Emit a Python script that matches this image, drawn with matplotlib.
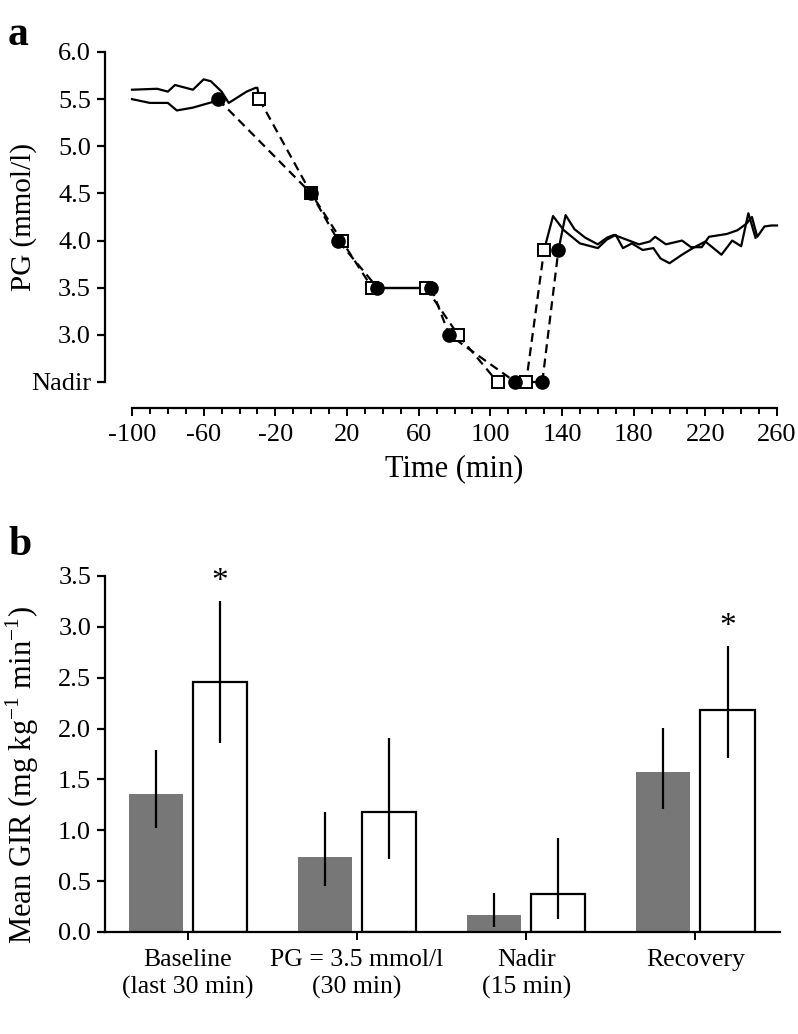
import matplotlib
matplotlib.use("Agg")
import matplotlib.pyplot as plt
import numpy as np

plt.rcParams['font.family'] = ['Liberation Serif', 'DejaVu Serif']
plt.rcParams['mathtext.fontset'] = 'custom'
plt.rcParams['mathtext.rm'] = 'Liberation Serif'
plt.rcParams['axes.unicode_minus'] = False

# ---------------- Panel a data ----------------
# step-wise clamp targets (markers, dashed)
circ_t = [-52, 0, 15, 37, 67, 77, 114, 129, 138]
circ_v = [5.5, 4.5, 4.0, 3.5, 3.5, 3.0, 2.5, 2.5, 3.9]
sq_t = [-29, 0, 17, 34, 64, 82, 104, 120, 130]
sq_v = [5.5, 4.5, 4.0, 3.5, 3.5, 3.0, 2.5, 2.5, 3.9]

# baseline traces
base_circ_t = [-100, -90, -80, -75, -66, -55, -52]
base_circ_v = [5.50, 5.46, 5.46, 5.38, 5.41, 5.47, 5.50]
base_sq_t = [-100, -86, -80, -76, -66, -60, -56, -50, -46, -36, -31, -30, -29]
base_sq_v = [5.60, 5.61, 5.58, 5.65, 5.60, 5.71, 5.69, 5.58, 5.46, 5.58, 5.62, 5.62, 5.5]

# recovery traces
rec_sq_t = [130, 135, 141, 150, 160, 165, 170, 174, 179, 185, 191, 195, 200, 207, 213, 220, 229, 235, 240, 244, 248]
rec_sq_v = [3.9, 4.26, 4.11, 3.97, 3.92, 4.01, 4.06, 3.92, 3.97, 3.90, 3.92, 3.81, 3.76, 3.85, 3.92, 3.99, 3.85, 4.00, 3.94, 4.29, 4.03]
rec_circ_t = [138, 142, 147, 153, 160, 165, 169, 176, 183, 189, 192, 198, 207, 212, 218, 222, 232, 238, 243, 246, 249, 253, 257, 260]
rec_circ_v = [3.9, 4.27, 4.12, 4.03, 3.96, 4.03, 4.06, 4.01, 3.96, 3.99, 4.04, 3.96, 4.00, 3.93, 3.93, 4.04, 4.07, 4.11, 4.18, 4.25, 4.04, 4.15, 4.16, 4.16]

yticks_a = [2.5, 3.0, 3.5, 4.0, 4.5, 5.0, 5.5, 6.0]
yticklabels_a = ['Nadir', '3.0', '3.5', '4.0', '4.5', '5.0', '5.5', '6.0']
xticks_a = list(range(-100, 261, 40))

# ---------------- Panel b data ----------------
categories = ['Baseline\n(last 30 min)', 'PG = 3.5 mmol/l\n(30 min)', 'Nadir\n(15 min)', 'Recovery']
grey_mean = [1.36, 0.74, 0.17, 1.57]
grey_lo = [1.02, 0.45, 0.05, 1.21]
grey_hi = [1.79, 1.18, 0.38, 2.01]
white_mean = [2.46, 1.18, 0.37, 2.18]
white_lo = [1.86, 0.72, 0.13, 1.71]
white_hi = [3.25, 1.91, 0.92, 2.81]
signif = [True, False, False, True]

W, H = 798, 1034
fig = plt.figure(figsize=(W / 100, H / 100), dpi=100)

TICK_FS = 19

# ---------------- Panel a ----------------
axa = fig.add_axes([132 / W, 1 - 382 / H, (777 - 132) / W, (382 - 52) / H])
lw = 1.6
axa.plot(base_circ_t, base_circ_v, color='black', lw=lw, zorder=2)
axa.plot(base_sq_t, base_sq_v, color='black', lw=lw, zorder=2)
axa.plot(rec_sq_t, rec_sq_v, color='black', lw=lw, zorder=2)
axa.plot(rec_circ_t, rec_circ_v, color='black', lw=lw, zorder=2)

for tt, vv in ((sq_t, sq_v), (circ_t, circ_v)):
    axa.plot(tt[:4], vv[:4], color='black', lw=lw, ls=(0, (4, 2.5)), zorder=2)
    axa.plot(tt[3:5], vv[3:5], color='black', lw=lw, ls='-', zorder=2)
    axa.plot(tt[4:], vv[4:], color='black', lw=lw, ls=(0, (4, 2.5)), zorder=2)

axa.plot(sq_t, sq_v, ls='none', marker='s', ms=8, mfc='white', mec='black', mew=1.4, zorder=3)
axa.plot(circ_t, circ_v, ls='none', marker='o', ms=9.5, mfc='black', mec='black', zorder=4)

axa.set_xlim(-100, 260)
axa.set_ylim(2.5, 6.0)
for s in ['top', 'right']:
    axa.spines[s].set_visible(False)
axa.spines['left'].set_position(('outward', 19.5))
axa.spines['bottom'].set_position(('outward', 19))
axa.spines['left'].set_linewidth(1.6)
axa.spines['bottom'].set_linewidth(1.6)
axa.set_yticks(yticks_a)
axa.set_yticklabels(yticklabels_a)
axa.set_xticks(xticks_a)
axa.set_xticks(list(range(-100, 261, 10)), minor=True)
axa.tick_params(axis='y', direction='out', length=6, width=1.6, pad=4, labelsize=TICK_FS)
axa.tick_params(axis='x', which='major', direction='out', length=6, width=1.4, pad=5, labelsize=TICK_FS)
axa.tick_params(axis='x', which='minor', direction='out', length=4, width=1.4)
axa.set_ylabel('PG (mmol/l)', fontsize=21)
axa.yaxis.set_label_coords(-0.148, 0.5)
axa.set_xlabel('Time (min)', fontsize=22, labelpad=6)
for ln in axa.get_lines():
    ln.set_clip_on(False)

fig.text(8 / W, 1 - 45 / H, 'a', fontsize=30, fontweight='bold')

# ---------------- Panel b ----------------
axb = fig.add_axes([105 / W, 1 - 932 / H, (780 - 105) / W, (932 - 576) / H])
x = np.arange(len(categories))
bw = 0.32
off = 0.19
g_err = [np.array(grey_mean) - np.array(grey_lo), np.array(grey_hi) - np.array(grey_mean)]
w_err = [np.array(white_mean) - np.array(white_lo), np.array(white_hi) - np.array(white_mean)]
axb.bar(x - off, grey_mean, width=bw, color='#777777', edgecolor='none', zorder=2)
axb.bar(x + off, white_mean, width=bw, color='white', edgecolor='black', linewidth=1.6, zorder=2)
axb.errorbar(x - off, grey_mean, yerr=g_err, fmt='none', ecolor='black', elinewidth=1.6, capsize=0, zorder=3)
axb.errorbar(x + off, white_mean, yerr=w_err, fmt='none', ecolor='black', elinewidth=1.6, capsize=0, zorder=3)
for i, s in enumerate(signif):
    if s:
        axb.text(x[i] + off, white_hi[i] + 0.04, '*', ha='center', va='bottom', fontsize=24)

axb.set_xlim(-0.49, 3.5)
axb.set_ylim(0, 3.5)
for s in ['top', 'right']:
    axb.spines[s].set_visible(False)
axb.spines['left'].set_linewidth(1.6)
axb.spines['bottom'].set_linewidth(1.6)
axb.set_yticks(np.arange(0, 3.51, 0.5))
axb.set_yticklabels([f'{v:.1f}' for v in np.arange(0, 3.51, 0.5)])
axb.set_xticks(x)
axb.set_xticklabels(categories, linespacing=1.3)
axb.tick_params(axis='y', direction='out', length=6, width=1.6, pad=4, labelsize=TICK_FS)
axb.tick_params(axis='x', direction='out', length=6, width=1.4, pad=6, labelsize=18.5)
axb.set_ylabel(r'Mean GIR (mg kg$^{\mathregular{-1}}$ min$^{\mathregular{-1}}$)', fontsize=22)
axb.yaxis.set_label_coords(-0.095, 0.44)

fig.text(8 / W, 1 - 555 / H, 'b', fontsize=30, fontweight='bold')

fig.savefig('out.png', dpi=100)
